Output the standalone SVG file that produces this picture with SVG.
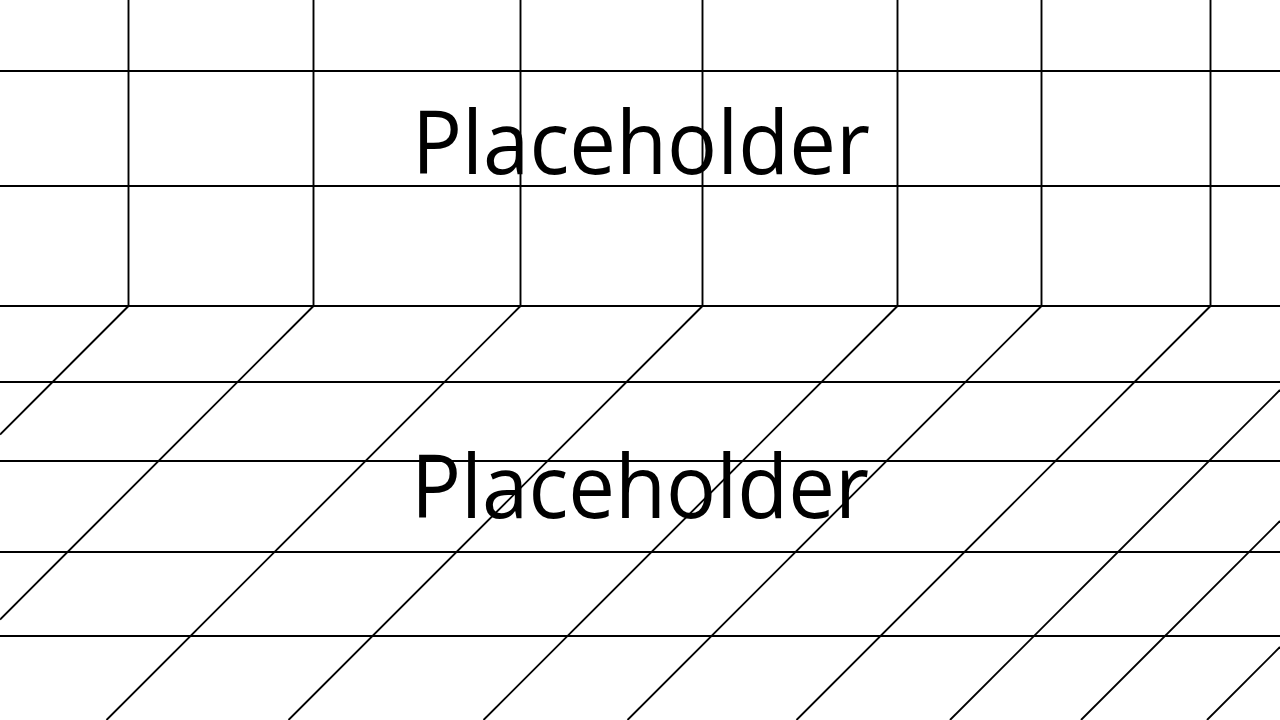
<svg xmlns="http://www.w3.org/2000/svg" width="1280" height="720" viewBox="0 0 1280 720">
  <style>
    .ln { stroke: #000; stroke-width: 1.9; fill: none; }
    .lbl { font-family: "Open Sans", "Liberation Sans", sans-serif; font-size: 87px; fill: #000; }
  </style>
  <rect x="0" y="0" width="1280" height="720" fill="#fff"/>
  <g id="connectors">
    <!-- wall: horizontal lines -->
    <line class="ln" x1="0" y1="71" x2="1280" y2="71"/>
    <line class="ln" x1="0" y1="186" x2="1280" y2="186"/>
    <line class="ln" x1="0" y1="306" x2="1280" y2="306"/>
    <!-- wall: vertical lines -->
    <line class="ln" x1="128.5" y1="0" x2="128.5" y2="306"/>
    <line class="ln" x1="313.5" y1="0" x2="313.5" y2="306"/>
    <line class="ln" x1="520.5" y1="0" x2="520.5" y2="306"/>
    <line class="ln" x1="702.5" y1="0" x2="702.5" y2="306"/>
    <line class="ln" x1="897.5" y1="0" x2="897.5" y2="306"/>
    <line class="ln" x1="1041.5" y1="0" x2="1041.5" y2="306"/>
    <line class="ln" x1="1210.5" y1="0" x2="1210.5" y2="306"/>
    <!-- floor: horizontal lines -->
    <line class="ln" x1="0" y1="382" x2="1280" y2="382"/>
    <line class="ln" x1="0" y1="461" x2="1280" y2="461"/>
    <line class="ln" x1="0" y1="552" x2="1280" y2="552"/>
    <line class="ln" x1="0" y1="636" x2="1280" y2="636"/>
    <!-- floor: diagonal lines (x + y = c) -->
    <line class="ln" x1="128.5" y1="306" x2="0" y2="434.5"/>
    <line class="ln" x1="313.5" y1="306" x2="0" y2="619.5"/>
    <line class="ln" x1="520.5" y1="306" x2="106.5" y2="720"/>
    <line class="ln" x1="702.5" y1="306" x2="288.5" y2="720"/>
    <line class="ln" x1="897.5" y1="306" x2="483.5" y2="720"/>
    <line class="ln" x1="1041.5" y1="306" x2="627.5" y2="720"/>
    <line class="ln" x1="1210.5" y1="306" x2="796.5" y2="720"/>
    <line class="ln" x1="1280" y1="390" x2="950" y2="720"/>
    <line class="ln" x1="1280" y1="521" x2="1081" y2="720"/>
    <line class="ln" x1="1280" y1="647" x2="1207" y2="720"/>
  </g>
  <g id="title">
    <text class="lbl" x="412" y="174" textLength="458" lengthAdjust="spacingAndGlyphs">Placeholder</text>
  </g>
  <g id="body">
    <text class="lbl" x="411" y="518" textLength="458" lengthAdjust="spacingAndGlyphs">Placeholder</text>
  </g>
</svg>
